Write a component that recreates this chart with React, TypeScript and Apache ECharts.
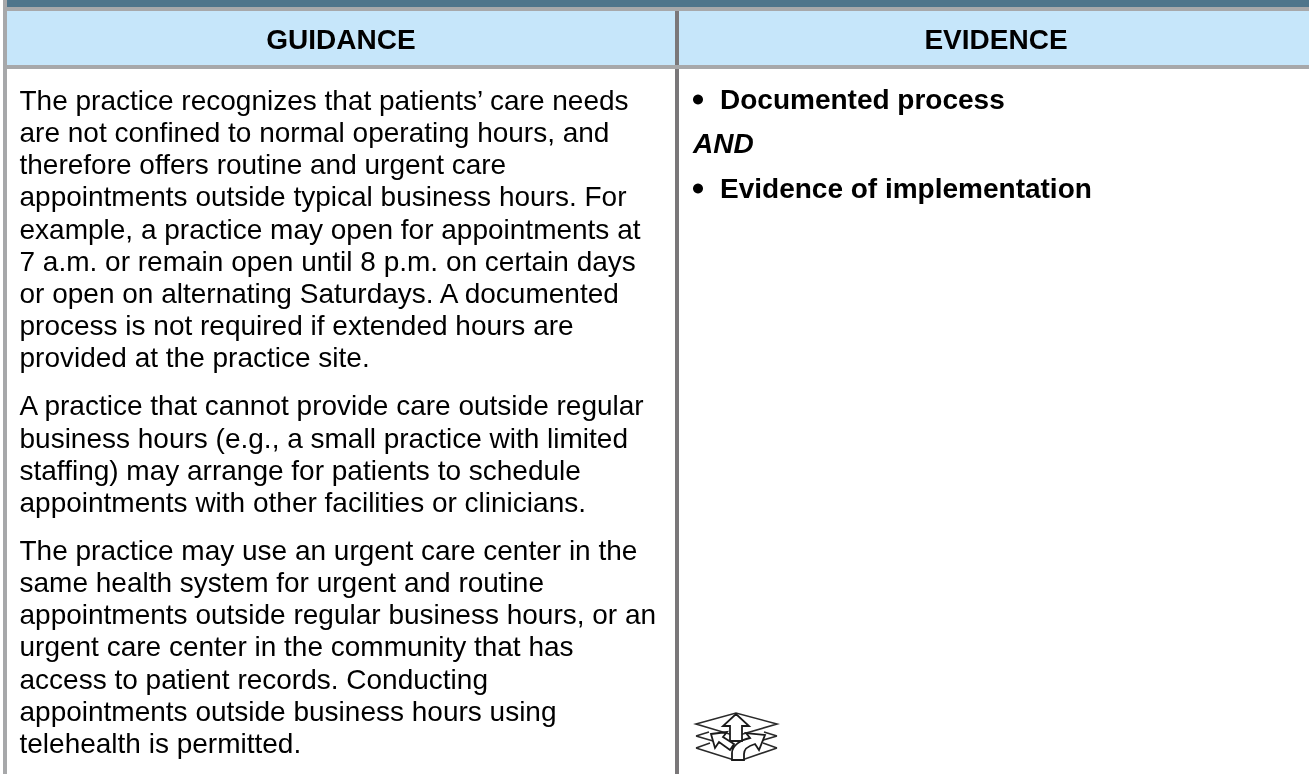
import React, { useEffect, useRef } from "react";
import * as echarts from "echarts";

const headers = ["GUIDANCE", "EVIDENCE"];
const paragraphs = [
  [
    "The practice recognizes that patients’ care needs",
    "are not confined to normal operating hours, and",
    "therefore offers routine and urgent care",
    "appointments outside typical business hours. For",
    "example, a practice may open for appointments at",
    "7 a.m. or remain open until 8 p.m. on certain days",
    "or open on alternating Saturdays. A documented",
    "process is not required if extended hours are",
    "provided at the practice site.",
  ],
  [
    "A practice that cannot provide care outside regular",
    "business hours (e.g., a small practice with limited",
    "staffing) may arrange for patients to schedule",
    "appointments with other facilities or clinicians.",
  ],
  [
    "The practice may use an urgent care center in the",
    "same health system for urgent and routine",
    "appointments outside regular business hours, or an",
    "urgent care center in the community that has",
    "access to patient records. Conducting",
    "appointments outside business hours using",
    "telehealth is permitted.",
  ],
];
const evidence = ["Documented process", "AND", "Evidence of implementation"];

const layersPath =
  "M0 11 L40 0 L81 11 L40 23 Z M0 23 L13 19 M81 23 L68 19 M0 23 L24 30 M81 23 L57 30 M0 35 L14 30 M81 35 L67 30 M0 35 L38 47 L46 47 L81 35";
const arrowsPath =
  "M34 28 L34 13 L27 13 L40 1 L53 13 L46 13 L46 28 Z M15 21 L31 19 L27 24 L38 31 L34 37 L23 29 L19 35 Z M36 47 L36 40 C36 33 44 27 54 25 L50 20 L69 22 L63 37 L59 31 C52 33 48 36 48 41 L48 47 Z";

export default function App() {
  const ref = useRef<HTMLDivElement>(null);
  useEffect(() => {
    const chart = echarts.init(ref.current!, undefined, { renderer: "svg" });
    echarts.graphic.registerShape("iconLayers", echarts.graphic.extendPath(layersPath as any, {}) as any);
    echarts.graphic.registerShape("iconArrows", echarts.graphic.extendPath(arrowsPath as any, {}) as any);
    const font = '"Liberation Sans", Arial, sans-serif';
    const elements: any[] = [
      { type: "rect", shape: { x: 0, y: 0, width: 1309, height: 774 }, style: { fill: "#ffffff" } },
      { type: "rect", shape: { x: 7, y: 0, width: 1302, height: 7 }, style: { fill: "#4f758b" } },
      { type: "rect", shape: { x: 7, y: 11, width: 1302, height: 54 }, style: { fill: "#c6e6fa" } },
      { type: "rect", shape: { x: 3, y: 7, width: 1306, height: 4 }, style: { fill: "#a7a8aa" } },
      { type: "rect", shape: { x: 3, y: 65, width: 1306, height: 4 }, style: { fill: "#a7a8aa" } },
      { type: "rect", shape: { x: 3, y: 0, width: 4, height: 774 }, style: { fill: "#a7a8aa" } },
      { type: "rect", shape: { x: 675, y: 11, width: 4, height: 54 }, style: { fill: "#7a7779" } },
      { type: "rect", shape: { x: 675, y: 69, width: 4, height: 705 }, style: { fill: "#7a7779" } },
      { type: "iconLayers", x: 696, y: 713, style: { fill: "none", stroke: "#2a2a2a", lineWidth: 1.6 } },
      { type: "iconArrows", x: 696, y: 713, style: { fill: "#ffffff", stroke: "#1a1a1a", lineWidth: 1.8 } },
    ];
    const headerX = [341, 996];
    headers.forEach((h, i) =>
      elements.push({
        type: "text", x: headerX[i], y: 39,
        style: { text: h, fill: "#000000", font: `bold 28px ${font}`, align: "center", verticalAlign: "middle" },
      }),
    );
    let y = 100.5;
    paragraphs.forEach((p) => {
      p.forEach((line) => {
        elements.push({
          type: "text", x: 19.5, y,
          style: { text: line, fill: "#000000", font: `28px ${font}`, verticalAlign: "middle" },
        });
        y += 32.15;
      });
      y += 16;
    });
    const evY = [99, 143.5, 188];
    evidence.forEach((t, i) => {
      const isAnd = t === "AND";
      elements.push({
        type: "text", x: isAnd ? 693 : 720, y: evY[i],
        style: { text: t, fill: "#000000", font: `${isAnd ? "italic " : ""}bold 28px ${font}`, verticalAlign: "middle" },
      });
      if (!isAnd) elements.push({ type: "circle", shape: { cx: 698, cy: evY[i] + 0.5, r: 5 }, style: { fill: "#000000" } });
    });
    chart.setOption({ animation: false, graphic: { elements } });
    return () => chart.dispose();
  }, []);
  return <div ref={ref} style={{ position: "fixed", left: 0, top: 0, width: 1309, height: 774 }} />;
}
